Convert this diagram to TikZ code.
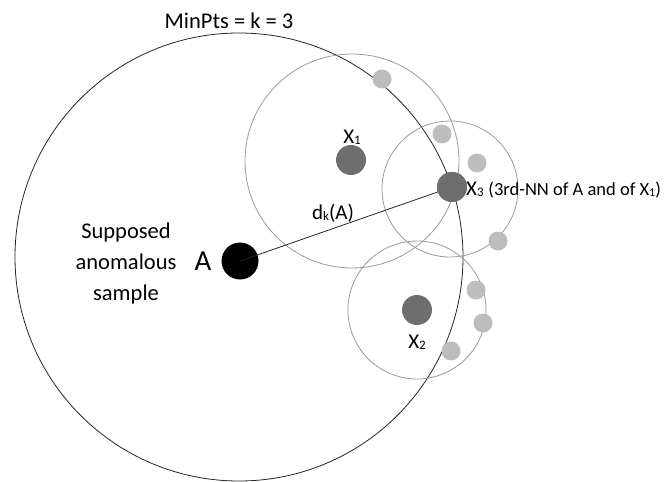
\documentclass[tikz,border=0pt]{standalone}
\usepackage{fontspec}
\setmainfont{Carlito}
\definecolor{ringgray}{HTML}{9A9A9A}
\definecolor{darkdot}{HTML}{6E6E6E}
\definecolor{lightdot}{HTML}{BDBDBD}
\newcommand\lowsub[1]{\raisebox{-1pt}{\fontsize{13}{13}\selectfont #1}}
\newcommand\smallsub[1]{\raisebox{-1pt}{\fontsize{12}{12}\selectfont #1}}
\begin{document}
\begin{tikzpicture}[x=1pt,y=-1pt,
  bigring/.style={draw=black!85,line width=0.8pt},
  ring/.style={draw=ringgray,line width=0.8pt},
  nbdot/.style={circle,fill=darkdot,inner sep=0pt,minimum size=30pt},
  smalldot/.style={circle,fill=lightdot,inner sep=0pt,minimum size=19pt},
  lbl/.style={inner sep=0pt,font=\fontsize{21}{24}\selectfont}]
\useasboundingbox (0,0) rectangle (668,481);
\fill[white] (0,0) rectangle (668,481);
% rings
\draw[bigring] (239,257) circle (224);
\draw[ring] (352,161) circle (107);
\draw[ring] (450,189) circle (68);
\draw[ring] (417,310) circle (69);
% points
\node[circle,fill=black,inner sep=0pt,minimum size=37pt] (A) at (240,261) {};
\node[nbdot] (X1) at (351,160) {};
\node[nbdot] (X2) at (417,310) {};
\node[nbdot] (X3) at (452,187) {};
\draw[black!85,line width=0.8pt] (A.center) -- (X3.center);
\node[nbdot] at (452,187) {};
\node[smalldot] (p1) at (382,79) {};
\node[smalldot] (p2) at (442,134) {};
\node[smalldot] (p3) at (477,163) {};
\node[smalldot] (p4) at (498,241) {};
\node[smalldot] (p5) at (476,290) {};
\node[smalldot] (p6) at (483,323) {};
\node[smalldot] (p7) at (451,351) {};
% labels
\node[lbl,font=\fontsize{22.5}{24}\selectfont] (title) at (229,21) {MinPts = k = 3};
\node[lbl,font=\fontsize{22.5}{31}\selectfont,align=center] (sup) at (126,263) {Supposed\\anomalous\\sample};
\node[lbl,font=\fontsize{29}{30}\selectfont] (lA) at (203,261) {A};
\node[lbl] (lX1) at (352,137) {X\lowsub{1}};
\node[lbl] (lX2) at (417,342) {X\lowsub{2}};
\node[lbl] (ldk) at (333,213) {d\lowsub{k}(A)};
\node[lbl,anchor=west] (lX3) at (466,190) {X\lowsub{3} {\fontsize{18.5}{20}\selectfont (3rd-NN of A and of X\smallsub{1})}};
\end{tikzpicture}
\end{document}
